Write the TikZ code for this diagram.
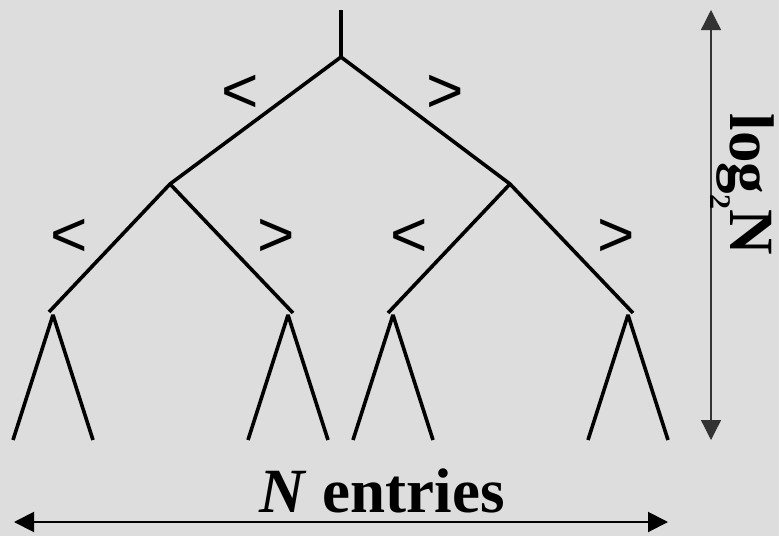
\documentclass[tikz,border=0pt]{standalone}
\usepackage{fontspec}
\setmainfont{Liberation Serif}
\newfontfamily\cmpfont{Liberation Sans}
\usepackage{tikz}
\usetikzlibrary{arrows.meta}

\definecolor{bggray}{RGB}{221,221,221}
\tikzset{
  branch/.style={line width=3.6pt, line join=bevel},
  cmp/.style={inner sep=0pt, font=\cmpfont\fontsize{64}{64}\selectfont},
  span/.style={{Triangle[width=20pt,length=20pt]}-{Triangle[width=20pt,length=20pt]}},
  biglabel/.style={inner sep=0pt, font=\bfseries\fontsize{63}{63}\selectfont}
}

\begin{document}
\begin{tikzpicture}[x=1pt, y=-1pt]
\fill[bggray] (0,0) rectangle (779,536);
\useasboundingbox (0,0) rectangle (779,536);
% tree points
\coordinate (stem) at (341,10);
\coordinate (root) at (341,57);
\coordinate (l) at (170,184);
\coordinate (r) at (510,184);
\coordinate (ll) at (49,312);
\coordinate (lr) at (293,313);
\coordinate (rl) at (388,313);
\coordinate (rr) at (633,313);
% root and the two splits below it
\draw[branch] (stem) -- (root);
\draw[branch] (l) -- (root) -- (r);
\draw[branch] (ll) -- (l) -- (lr);
\draw[branch] (rl) -- (r) -- (rr);
% subtrees at the bottom
\foreach \x/\n in {53/a,288/b,393/c,628/d} {
  \coordinate (apex\n) at (\x,315);
  \coordinate (foot\n1) at (\x-40,440);
  \coordinate (foot\n2) at (\x+40,440);
  \draw[branch] (foot\n1) -- (apex\n) -- (foot\n2);
}
% comparison signs
\node[cmp] (lt0) at (240,94) {<};
\node[cmp] (gt0) at (445,94) {>};
\node[cmp] (lt1) at (69,238) {<};
\node[cmp] (gt1) at (276,238) {>};
\node[cmp] (lt2) at (409,238) {<};
\node[cmp] (gt2) at (616,238) {>};
% height of the tree
\coordinate (htop) at (711,10);
\coordinate (hbot) at (711,440);
\draw[span, line width=1.3pt, black!80] (htop) -- (hbot);
\node[biglabel, rotate=-90, anchor=base] (height) at (730,184)
  {log\raisebox{-20pt}{\fontsize{30}{30}\selectfont 2}N};
% width of the tree
\coordinate (wleft) at (14,522);
\coordinate (wright) at (668,522);
\draw[span, line width=2pt] (wleft) -- (wright);
\node[biglabel, anchor=base] (width) at (382,512) {\textit{N} entries};
\end{tikzpicture}
\end{document}
